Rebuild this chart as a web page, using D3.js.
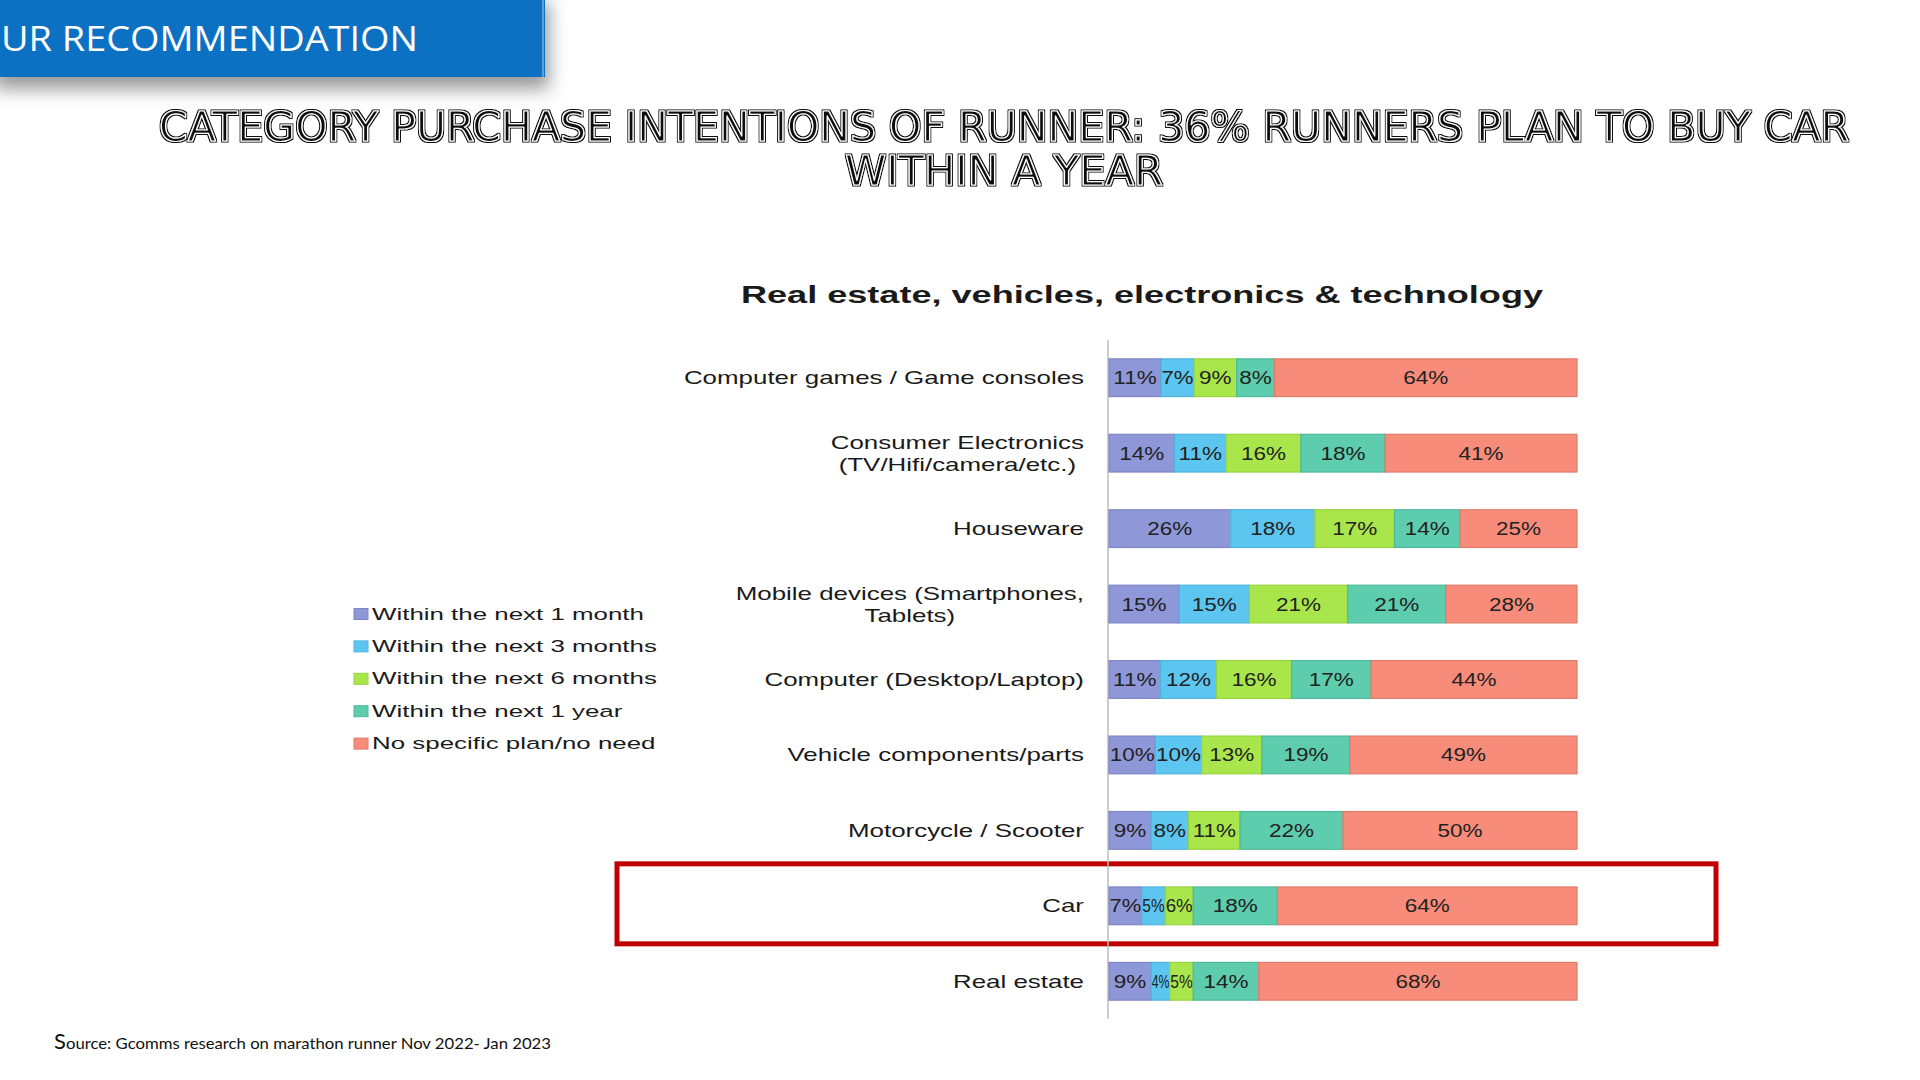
<!DOCTYPE html>
<html>
<head>
<meta charset="utf-8">
<script src="https://cdn.jsdelivr.net/npm/d3@7"></script>
<style>
html,body{margin:0;padding:0;background:#fff;}
svg{display:block;}
</style>
</head>
<body>
<svg id="chart" width="1920" height="1080"></svg>
<script>
// ---- data ----
const categories = [
  ["Computer games / Game consoles"],
  ["Consumer Electronics", "(TV/Hifi/camera/etc.)"],
  ["Houseware"],
  ["Mobile devices (Smartphones,", "Tablets)"],
  ["Computer (Desktop/Laptop)"],
  ["Vehicle components/parts"],
  ["Motorcycle / Scooter"],
  ["Car"],
  ["Real estate"]
];
const seriesNames = [
  "Within the next 1 month",
  "Within the next 3 months",
  "Within the next 6 months",
  "Within the next 1 year",
  "No specific plan/no need"
];
const within1Month  = [11, 14, 26, 15, 11, 10,  9,  7,  9];
const within3Months = [ 7, 11, 18, 15, 12, 10,  8,  5,  4];
const within6Months = [ 9, 16, 17, 21, 16, 13, 11,  6,  5];
const within1Year   = [ 8, 18, 14, 21, 17, 19, 22, 18, 14];
const noPlan        = [64, 41, 25, 28, 44, 49, 50, 64, 68];
const colors = ["#8e97d8", "#5cc6f0", "#a9e64b", "#5dcdad", "#f68c79"];
const strokeColors = ["#7f86c4", "#4fb4dc", "#97d33f", "#4fb99b", "#e07c6a"];
const highlightCategory = "Car";

// ---- build table ----
const keys = ["m1", "m3", "m6", "y1", "np"];
const seriesArrays = [within1Month, within3Months, within6Months, within1Year, noPlan];
const rows = categories.map((c, i) => {
  const r = {name: c.join(" "), lines: c};
  keys.forEach((k, j) => r[k] = seriesArrays[j][i]);
  return r;
});

const svg = d3.select("#chart");
const defs = svg.append("defs");

// ---- header box ----
const f = defs.append("filter").attr("id", "shadow").attr("x", "-10%").attr("y", "-10%").attr("width", "130%").attr("height", "190%");
f.append("feDropShadow").attr("dx", 4).attr("dy", 12).attr("stdDeviation", 9).attr("flood-color", "#777").attr("flood-opacity", 0.75);
svg.append("rect").attr("x", -10).attr("y", -10).attr("width", 555).attr("height", 87)
  .attr("fill", "#0871c3").attr("filter", "url(#shadow)");
svg.append("line").attr("x1", 543).attr("x2", 543).attr("y1", 0).attr("y2", 77)
  .attr("stroke", "#5aa2dc").attr("stroke-width", 2);
svg.append("text").attr("x", 1).attr("y", 51)
  .attr("font-family", "'Open Sans', 'Noto Sans', sans-serif").attr("font-size", 34)
  .attr("fill", "#fff").attr("textLength", 417).attr("lengthAdjust", "spacingAndGlyphs")
  .text("UR RECOMMENDATION");

// ---- main title with outlined letters (single text + outline filter) ----
const of = defs.append("filter").attr("id", "outline").attr("x", "-2%").attr("y", "-20%").attr("width", "104%").attr("height", "140%");
of.append("feMorphology").attr("in", "SourceAlpha").attr("operator", "dilate").attr("radius", 1.1).attr("result", "dil");
of.append("feFlood").attr("flood-color", "#111").attr("result", "blk");
of.append("feComposite").attr("in", "blk").attr("in2", "dil").attr("operator", "in").attr("result", "outer");
const ofm = of.append("feMerge");
ofm.append("feMergeNode").attr("in", "outer");
ofm.append("feMergeNode").attr("in", "SourceGraphic");

const titleLines = [
  {t: "CATEGORY PURCHASE INTENTIONS OF RUNNER: 36% RUNNERS PLAN TO BUY CAR", y: 141, w: 1690},
  {t: "WITHIN A YEAR", y: 185, w: 318}
];
titleLines.forEach(l => {
  svg.append("text").attr("x", 1004).attr("y", l.y).attr("text-anchor", "middle")
    .attr("font-family", "'Liberation Sans Narrow', 'DejaVu Sans Condensed', sans-serif")
    .attr("font-size", 41).attr("fill", "#111").attr("stroke", "#fff").attr("stroke-width", 1.1)
    .attr("stroke-linejoin", "round").attr("filter", "url(#outline)")
    .attr("textLength", l.w).attr("lengthAdjust", "spacingAndGlyphs")
    .text(l.t);
});

// ---- chart title ----
svg.append("text").attr("x", 1142).attr("y", 303).attr("text-anchor", "middle")
  .attr("font-family", "'Liberation Sans', Arial, sans-serif").attr("font-weight", "bold")
  .attr("font-size", 23).attr("fill", "#1a1a1a")
  .attr("textLength", 802).attr("lengthAdjust", "spacingAndGlyphs")
  .text("Real estate, vehicles, electronics & technology");

// ---- scales ----
const x = d3.scaleLinear().domain([0, 1]).range([1109, 1577]);
const y = d3.scaleBand().domain(rows.map(r => r.name)).range([340, 1019]).paddingInner(0.5).paddingOuter(0.25);
const color = d3.scaleOrdinal().domain(keys).range(colors);
const strokeColor = d3.scaleOrdinal().domain(keys).range(strokeColors);

const stack = d3.stack().keys(keys).offset(d3.stackOffsetExpand);
const stacked = stack(rows);

// ---- highlight box ----
const hl = rows.find(r => r.name === highlightCategory);
const car = y(hl.name);
svg.append("rect").attr("x", 617).attr("y", car + y.bandwidth() / 2 - 42)
  .attr("width", 1099).attr("height", 80)
  .attr("fill", "none").attr("stroke", "#c00000").attr("stroke-width", 5);

// ---- axis line ----
svg.append("line").attr("x1", 1108).attr("x2", 1108).attr("y1", 340).attr("y2", 1019)
  .attr("stroke", "#bdbdbd").attr("stroke-width", 1.5);

// ---- bars ----
const layer = svg.append("g").selectAll("g").data(stacked).join("g");
layer.selectAll("rect").data(d => d.map(v => ({key: d.key, v, row: v.data})))
  .join("rect")
  .attr("x", d => x(d.v[0]))
  .attr("y", d => y(d.row.name))
  .attr("width", d => x(d.v[1]) - x(d.v[0]))
  .attr("height", y.bandwidth())
  .attr("fill", d => color(d.key))
  .attr("stroke", d => strokeColor(d.key))
  .attr("stroke-width", 1.2);

// ---- bar value labels ----
const sxVal = 1.25;
layer.selectAll("text").data(d => d.map(v => ({key: d.key, v, row: v.data})))
  .join("text")
  .attr("text-anchor", "middle")
  .attr("font-family", "'Liberation Sans', Arial, sans-serif")
  .attr("font-size", 18).attr("fill", "#222")
  .text(d => d.row[d.key] + "%")
  .attr("transform", function(d) {
    const seg = x(d.v[1]) - x(d.v[0]);
    const len = this.getComputedTextLength();
    const s = Math.min(sxVal, (seg - 1) / len);
    return `translate(${(x(d.v[0]) + x(d.v[1])) / 2},${y(d.row.name) + y.bandwidth() / 2 + 6.5}) scale(${s},1)`;
  });

// ---- category labels ----
const sxCat = 1.40;
rows.forEach(r => {
  const g = svg.append("g")
    .attr("transform", `translate(1084,${y(r.name) + y.bandwidth() / 2}) scale(${sxCat},1)`);
  const n = r.lines.length;
  const texts = r.lines.map((line, i) => g.append("text")
    .attr("y", (i - (n - 1) / 2) * 22 + 6.5)
    .attr("font-family", "'Liberation Sans', Arial, sans-serif")
    .attr("font-size", 18.5).attr("fill", "#1a1a1a")
    .text(line));
  const maxW = d3.max(texts, t => t.node().getComputedTextLength());
  texts.forEach(t => t.attr("text-anchor", "middle").attr("x", -maxW / 2));
});

// ---- legend ----
const sxLeg = 1.57;
const legend = svg.append("g");
seriesNames.forEach((name, i) => {
  const cy = 613.5 + i * 32.4;
  legend.append("rect").attr("x", 354).attr("y", cy - 5).attr("width", 14).attr("height", 11)
    .attr("fill", colors[i]).attr("stroke", strokeColors[i]).attr("stroke-width", 1);
  legend.append("text")
    .attr("transform", `translate(372,${cy + 6}) scale(${sxLeg},1)`)
    .attr("font-family", "'Liberation Sans', Arial, sans-serif")
    .attr("font-size", 16.5).attr("fill", "#1a1a1a")
    .text(name);
});

// ---- source ----
const src = svg.append("text").attr("x", 54).attr("y", 1049)
  .attr("font-family", "Lato, 'Open Sans', sans-serif").attr("font-size", 16).attr("fill", "#111")
  .attr("textLength", 497).attr("lengthAdjust", "spacingAndGlyphs");
src.append("tspan").attr("font-size", 21).text("S");
src.append("tspan").text("ource: Gcomms research on marathon runner Nov 2022- Jan 2023");
</script>
</body>
</html>
